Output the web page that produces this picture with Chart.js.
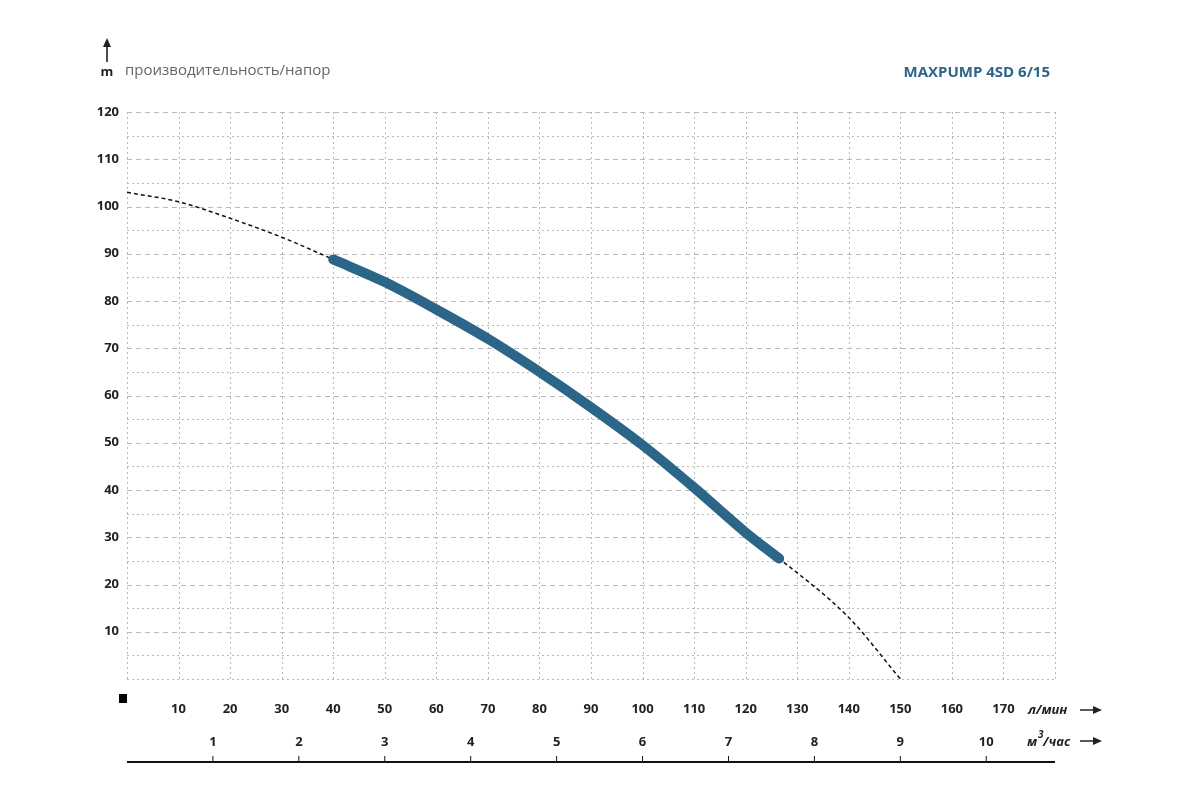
<!DOCTYPE html>
<html>
<head>
<meta charset="utf-8">
<script src="https://cdn.jsdelivr.net/npm/chart.js@4"></script>
<style>
  html, body { margin: 0; padding: 0; background: #fff; }
</style>
</head>
<body>
<canvas id="pump-chart" width="1200" height="800"></canvas>
<script>
// flow (l/min) vs head (m)
const flow_full = [0, 10, 20, 30, 40, 50, 60, 70, 80, 90, 100, 110, 120, 126.5, 140, 150];
const head_full = [103, 101, 97.5, 93.5, 88.8, 84, 78.2, 72, 65, 57.5, 49.5, 40.5, 31, 25.5, 13, 0];
const flow_work = [40, 50, 60, 70, 80, 90, 100, 110, 120, 126.5];
const head_work = [88.8, 84, 78.2, 72, 65, 57.5, 49.5, 40.5, 31, 25.5];
const x_ticks = [10, 20, 30, 40, 50, 60, 70, 80, 90, 100, 110, 120, 130, 140, 150, 160, 170];
const m3_ticks = [1, 2, 3, 4, 5, 6, 7, 8, 9, 10];
const y_ticks = [10, 20, 30, 40, 50, 60, 70, 80, 90, 100, 110, 120];

const blue = '#2b6688';
const toPts = (xs, ys) => xs.map((x, i) => ({ x: x, y: ys[i] }));

const decor = {
  id: 'decor',
  beforeDatasetsDraw(chart) {
    const c = chart.ctx, a = chart.chartArea;
    const sx = chart.scales.x, sy = chart.scales.y;
    c.save();
    c.strokeStyle = '#b8b8b8';
    c.lineWidth = 1;
    // vertical dotted lines
    c.setLineDash([2, 3]);
    for (let v = 10; v <= 180; v += 10) {
      const px = Math.round(sx.getPixelForValue(v)) + 0.5;
      c.beginPath(); c.moveTo(px, a.top); c.lineTo(px, a.bottom); c.stroke();
    }
    const lx = Math.round(a.left) + 0.5;
    c.beginPath(); c.moveTo(lx, a.top); c.lineTo(lx, a.bottom); c.stroke();
    // horizontal lines
    for (let v = 0; v <= 120; v += 5) {
      const py = Math.round(sy.getPixelForValue(v)) + 0.5;
      c.setLineDash(v % 10 === 0 && v > 0 ? [5, 4] : [2, 3]);
      c.beginPath(); c.moveTo(a.left, py); c.lineTo(a.right, py); c.stroke();
    }
    c.restore();
  },
  afterDraw(chart) {
    const c = chart.ctx, a = chart.chartArea;
    const sx = chart.scales.x, sy = chart.scales.y, s2 = chart.scales.x2;
    c.save();
    c.fillStyle = '#222';
    c.font = 'bold 13px "Open Sans"';
    c.textBaseline = 'middle';
    c.textAlign = 'right';
    y_ticks.forEach(v => c.fillText(String(v), 119, sy.getPixelForValue(v)));
    c.textAlign = 'center';
    x_ticks.forEach(v => c.fillText(String(v), sx.getPixelForValue(v), 709));
    m3_ticks.forEach(v => c.fillText(String(v), s2.getPixelForValue(v), 742));
    // bottom axis line with ticks
    c.strokeStyle = '#111';
    c.lineWidth = 2;
    c.beginPath(); c.moveTo(a.left, 762); c.lineTo(a.right, 762); c.stroke();
    c.lineWidth = 1;
    m3_ticks.forEach(v => {
      const px = s2.getPixelForValue(v);
      c.beginPath(); c.moveTo(px, 756); c.lineTo(px, 762); c.stroke();
    });
    // square marker
    c.fillStyle = '#000';
    c.fillRect(119, 694, 8, 9);
    // units
    c.fillStyle = '#222';
    c.strokeStyle = '#222';
    c.font = 'italic bold 13px "Open Sans"';
    c.textAlign = 'left';
    c.fillText('л/мин', 1028, 710);
    c.fillText('м', 1027, 742);
    c.font = 'italic bold 10px "Open Sans"';
    c.fillText('3', 1038, 735);
    c.font = 'italic bold 13px "Open Sans"';
    c.fillText('/час', 1043, 742);
    const arrow = (x1, x2, y) => {
      c.lineWidth = 1.5;
      c.beginPath(); c.moveTo(x1, y); c.lineTo(x2 - 6, y); c.stroke();
      c.beginPath(); c.moveTo(x2, y); c.lineTo(x2 - 9, y - 4); c.lineTo(x2 - 9, y + 4); c.closePath(); c.fill();
    };
    arrow(1080, 1102, 710);
    arrow(1080, 1102, 741);
    // top-left: arrow + m + caption
    c.strokeStyle = '#111';
    c.lineWidth = 1.5;
    c.beginPath(); c.moveTo(107, 62); c.lineTo(107, 44); c.stroke();
    c.beginPath(); c.moveTo(107, 38); c.lineTo(103, 47); c.lineTo(111, 47); c.closePath(); c.fill();
    c.font = 'bold 13px "Open Sans"';
    c.textAlign = 'center';
    c.fillText('m', 107, 72);
    c.fillStyle = '#666';
    c.font = '15px "Open Sans"';
    c.textAlign = 'left';
    c.fillText('производительность/напор', 125, 71);
    // title
    c.fillStyle = blue;
    c.font = 'bold 15px "Open Sans"';
    c.textAlign = 'right';
    c.fillText('MAXPUMP 4SD 6/15', 1050, 73);
    c.restore();
  }
};

new Chart(document.getElementById('pump-chart'), {
  type: 'scatter',
  data: {
    datasets: [
      {
        label: 'working range',
        data: toPts(flow_work, head_work),
        showLine: true,
        borderColor: blue,
        borderWidth: 10,
        borderCapStyle: 'round',
        pointRadius: 0,
        cubicInterpolationMode: 'monotone',
      },
      {
        label: 'curve',
        data: toPts(flow_full, head_full),
        showLine: true,
        borderColor: '#111',
        borderWidth: 1.5,
        borderDash: [4, 3],
        pointRadius: 0,
        cubicInterpolationMode: 'monotone',
      },
    ],
  },
  options: {
    responsive: false,
    animation: false,
    devicePixelRatio: 1,
    layout: { padding: { left: 127, right: 145, top: 112, bottom: 121 } },
    plugins: { legend: { display: false }, tooltip: { enabled: false } },
    scales: {
      x: { type: 'linear', min: 0, max: 180, display: false },
      x2: { type: 'linear', min: 0, max: 10.8, display: false },
      y: { type: 'linear', min: 0, max: 120, display: false },
    },
  },
  plugins: [decor],
});
</script>
</body>
</html>
